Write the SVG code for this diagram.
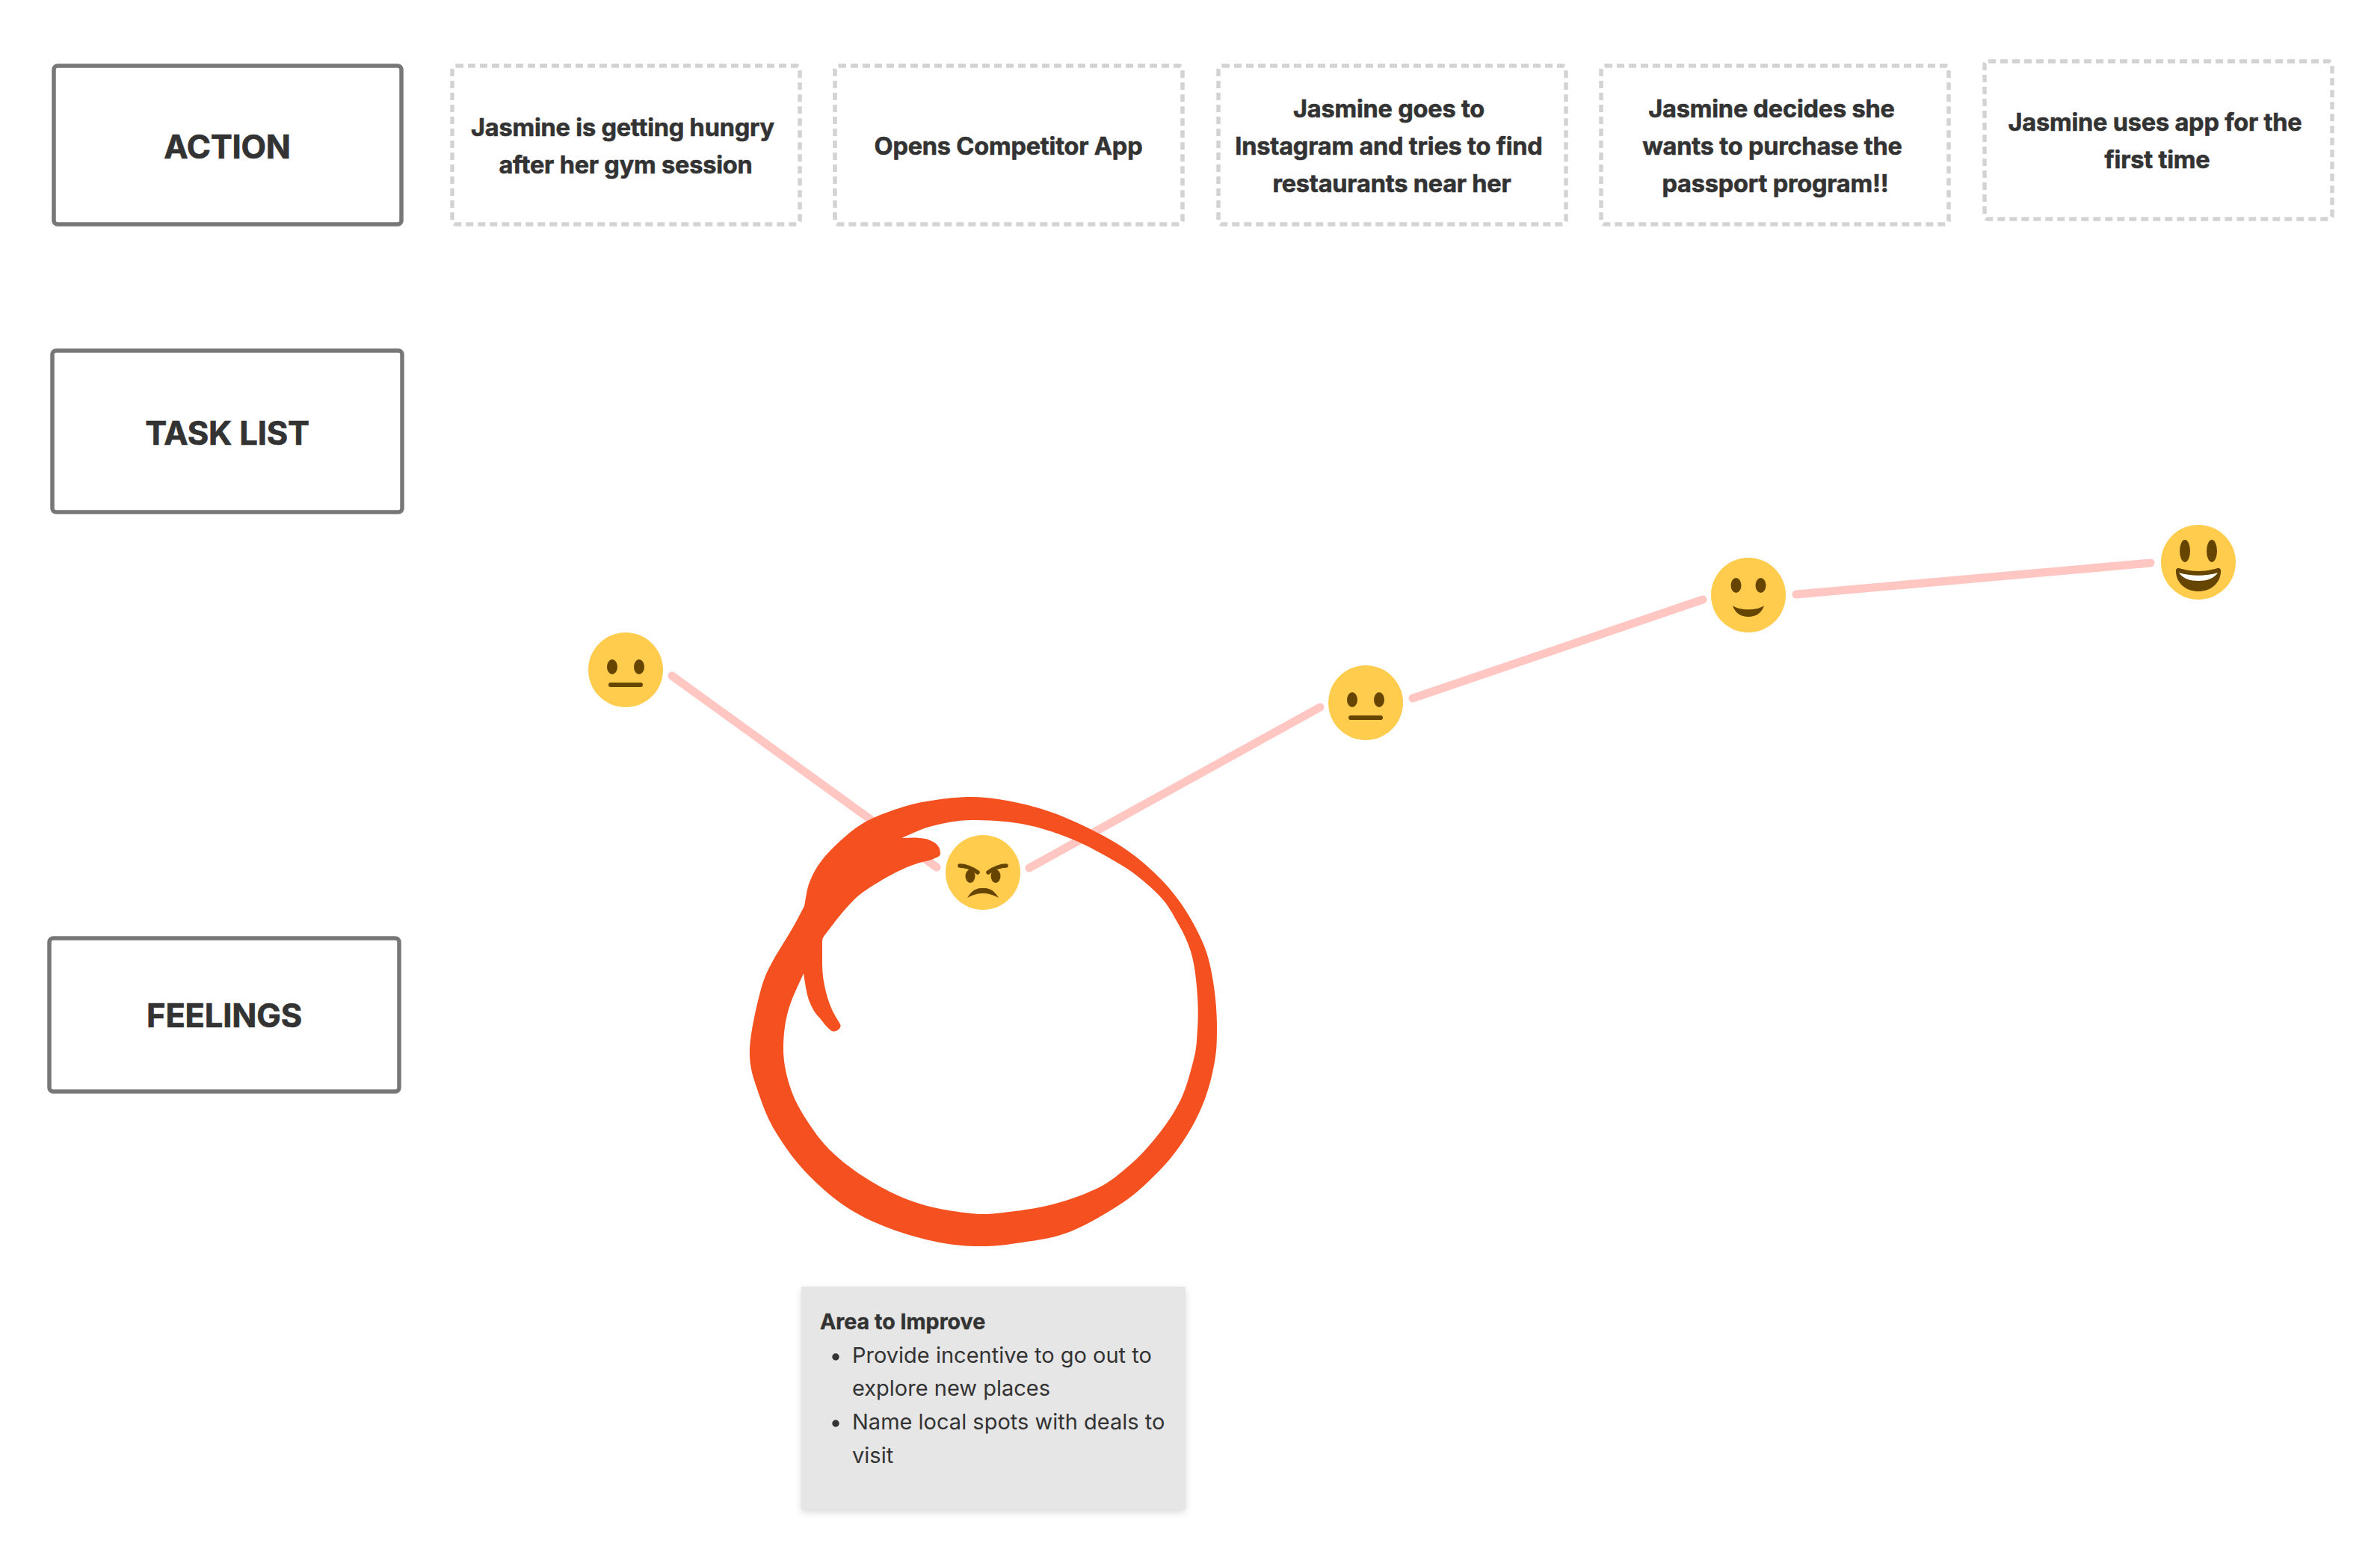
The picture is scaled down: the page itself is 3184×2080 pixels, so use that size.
<svg xmlns="http://www.w3.org/2000/svg" width="3184" height="2080" viewBox="0 0 3184 2080">
<style>
.lane{fill:#fff;stroke:#777;stroke-width:5.5}
.step{fill:#fff;stroke:#d3d3d3;stroke-width:5.5;stroke-dasharray:10 6}
.lt{font-family:Inter,"Liberation Sans",sans-serif;font-weight:700;font-size:43.500px;fill:#333;stroke:#333;stroke-width:.7;text-anchor:middle;letter-spacing:-.2px}
.st{font-family:Inter,"Liberation Sans",sans-serif;font-weight:700;font-size:32.500px;fill:#333;stroke:#333;stroke-width:.6;text-anchor:middle;letter-spacing:-.2px}
.nb{font-family:Inter,"Liberation Sans",sans-serif;font-weight:700;font-size:28.600px;fill:#333;stroke:#333;stroke-width:.4}
.nt{font-family:Inter,"Liberation Sans",sans-serif;font-weight:400;font-size:29px;fill:#333}
.face{fill:#ffcc4d}
.d{fill:#664500}
.ds{fill:none;stroke:#664500;stroke-linecap:round}
.conn{fill:none;stroke:#ffc6c2;stroke-width:11;stroke-linecap:round}
</style>
<defs>
<filter id="sh" x="-5%" y="-5%" width="110%" height="110%"><feDropShadow dx="0" dy="4" stdDeviation="5" flood-color="#000" flood-opacity="0.14"/></filter>
<g id="neutral"><circle class="face" r="50"/><ellipse class="d" cx="-18" cy="-4" rx="7" ry="10"/><ellipse class="d" cx="18" cy="-4" rx="7" ry="10"/><path class="ds" stroke-width="6" d="M-20 20H20"/></g>
</defs>
<rect width="3184" height="2080" fill="#fff"/>
<g id="connectors">
<path class="conn" d="M899 904L1253 1160"/>
<path class="conn" d="M1377 1161L1766 946"/>
<path class="conn" d="M1890 934L2278 802"/>
<path class="conn" d="M2403 795L2877 753"/>
</g>
<g id="lane-action"><rect class="lane" x="72" y="88" width="465" height="212" rx="5"/><text class="lt" x="304" y="212">ACTION</text></g>
<g id="lane-task-list"><rect class="lane" x="70" y="469" width="468" height="216" rx="5"/><text class="lt" x="304" y="595">TASK LIST</text></g>
<g id="lane-feelings"><rect class="lane" x="66" y="1255" width="468" height="205" rx="5"/><text class="lt" x="300" y="1374">FEELINGS</text></g>
<g id="step-1"><rect class="step" x="605" y="88" width="465" height="212" rx="5"/><text class="st" x="833" y="182">Jasmine is getting hungry</text><text class="st" x="837" y="232">after her gym session</text></g>
<g id="step-2"><rect class="step" x="1117" y="88" width="465" height="212" rx="5"/><text class="st" x="1349" y="207">Opens Competitor App</text></g>
<g id="step-3"><rect class="step" x="1630" y="88" width="465" height="212" rx="5"/><text class="st" x="1858" y="157">Jasmine goes to</text><text class="st" x="1858" y="207">Instagram and tries to find</text><text class="st" x="1862" y="257">restaurants near her</text></g>
<g id="step-4"><rect class="step" x="2142" y="88" width="465" height="212" rx="5"/><text class="st" x="2370" y="157">Jasmine decides she</text><text class="st" x="2371" y="207">wants to purchase the</text><text class="st" x="2375" y="257">passport program!!</text></g>
<g id="step-5"><rect class="step" x="2655" y="82" width="465" height="211" rx="5"/><text class="st" x="2883" y="175">Jasmine uses app for the</text><text class="st" x="2886" y="225">first time</text></g>
<g id="feeling-1"><use href="#neutral" x="837" y="896"/></g>
<g id="feeling-2" transform="translate(1315 1167)"><circle class="face" r="50"/><ellipse class="d" cx="-17" cy="5" rx="6.5" ry="9"/><ellipse class="d" cx="17" cy="5" rx="6.5" ry="9"/><path class="ds" stroke-width="5.500" d="M-31 -9C-22 -9 -14 -5 -7 0M31 -9C22 -9 14 -5 7 0"/><path class="d" d="M-21 34C-14 22 -7 21 0 21C7 21 14 22 21 34C12 29 6 28 0 28C-6 28 -12 29 -21 34Z"/></g>
<g id="feeling-3"><use href="#neutral" x="1827" y="940"/></g>
<g id="feeling-4" transform="translate(2339 796)"><circle class="face" r="50"/><ellipse class="d" cx="-16.500" cy="-13" rx="7" ry="10"/><ellipse class="d" cx="16.500" cy="-13" rx="7" ry="10"/><path class="d" d="M-21 14C-12 21 12 21 21 14C18 24 10 29 0 29C-10 29 -18 24 -21 14Z"/></g>
<g id="feeling-5" transform="translate(2941 752)"><circle class="face" r="50"/><ellipse class="d" cx="-18" cy="-15" rx="7" ry="15"/><ellipse class="d" cx="18" cy="-15" rx="7" ry="15"/><path class="d" d="M-30 10C-28 7 -26 8 -22 9C-8 13 8 13 22 9C26 8 28 7 30 10C31 28 16 39 0 39C-16 39 -31 28 -30 10Z"/><path d="M-26 14C-10 19 10 19 26 14C21 22 11 25 0 25C-11 25 -21 22 -26 14Z" fill="#fff"/></g>
<g id="highlight-circle"><path fill="#f55120" fill-rule="evenodd" d="M1076 1212C1078 1203 1079 1190 1083 1180C1087 1170 1092 1160 1100 1150C1108 1140 1121 1127 1133 1117C1145 1107 1156 1099 1173 1092C1190 1085 1212 1077 1233 1073C1254 1069 1278 1066 1300 1066C1322 1066 1345 1070 1367 1075C1389 1080 1411 1087 1433 1097C1455 1107 1480 1119 1500 1132C1520 1145 1536 1159 1550 1173C1564 1187 1573 1198 1583 1213C1593 1228 1603 1246 1610 1263C1617 1280 1620 1295 1623 1313C1626 1331 1628 1354 1628 1372C1628 1390 1628 1404 1625 1420C1622 1436 1619 1450 1613 1467C1607 1484 1598 1503 1587 1520C1576 1537 1565 1552 1550 1567C1535 1582 1520 1597 1500 1610C1480 1623 1455 1638 1433 1647C1411 1656 1387 1659 1367 1662C1347 1665 1331 1667 1313 1667C1295 1667 1278 1666 1257 1662C1236 1658 1211 1651 1190 1643C1169 1635 1149 1626 1130 1613C1111 1600 1093 1584 1077 1567C1061 1550 1048 1531 1037 1513C1026 1495 1019 1475 1013 1457C1007 1439 1002 1425 1003 1403C1004 1381 1012 1346 1017 1327C1022 1308 1026 1300 1033 1287C1040 1274 1050 1259 1057 1247C1064 1235 1070 1224 1076 1212Z
M1206 1121C1221 1115 1231 1109 1247 1105C1263 1101 1280 1097 1300 1097C1320 1097 1345 1098 1367 1102C1389 1106 1411 1113 1433 1122C1455 1131 1480 1145 1500 1157C1520 1169 1537 1184 1550 1197C1563 1210 1569 1223 1577 1237C1585 1251 1591 1264 1595 1280C1599 1296 1601 1317 1602 1333C1603 1349 1603 1363 1602 1377C1601 1391 1601 1402 1597 1417C1593 1432 1588 1453 1580 1470C1572 1487 1561 1503 1550 1517C1539 1531 1527 1545 1513 1557C1499 1569 1486 1581 1467 1590C1448 1599 1422 1608 1400 1613C1378 1618 1351 1621 1333 1623C1315 1625 1307 1624 1290 1622C1273 1620 1249 1616 1230 1610C1211 1604 1195 1597 1177 1587C1159 1577 1138 1563 1123 1550C1108 1537 1098 1526 1087 1510C1076 1494 1064 1475 1058 1457C1052 1439 1048 1421 1048 1403C1048 1385 1050 1367 1055 1350C1060 1333 1069 1316 1075 1302C1077 1315 1079 1330 1083 1340C1087 1350 1091 1356 1097 1362C1101 1367 1105 1373 1110 1377C1113 1380 1116 1380 1118 1379C1122 1378 1126 1374 1124 1370C1122 1366 1121 1365 1118 1360C1112 1350 1108 1339 1105 1327C1102 1315 1100 1303 1100 1290C1100 1280 1100 1270 1100 1260C1100 1256 1101 1253 1104 1250C1116 1234 1129 1217 1143 1203C1157 1190 1172 1182 1187 1173C1200 1166 1214 1159 1227 1155C1236 1152 1246 1151 1253 1147C1256 1146 1258 1144 1258 1142C1258 1136 1256 1131 1250 1127C1244 1123 1237 1121 1230 1121C1222 1120 1214 1121 1206 1121Z"/></g>
<g id="note-area-to-improve"><rect x="1072" y="1721" width="514" height="298" fill="#e6e6e6" filter="url(#sh)"/>
<text class="nb" x="1097" y="1778">Area to Improve</text>
<circle cx="1118" cy="1815" r="4.700" fill="#333"/><text class="nt" x="1140" y="1823">Provide incentive to go out to</text>
<text class="nt" x="1140" y="1867">explore new places</text>
<circle cx="1118" cy="1904" r="4.700" fill="#333"/><text class="nt" x="1140" y="1912">Name local spots with deals to</text>
<text class="nt" x="1140" y="1957">visit</text></g>
</svg>
